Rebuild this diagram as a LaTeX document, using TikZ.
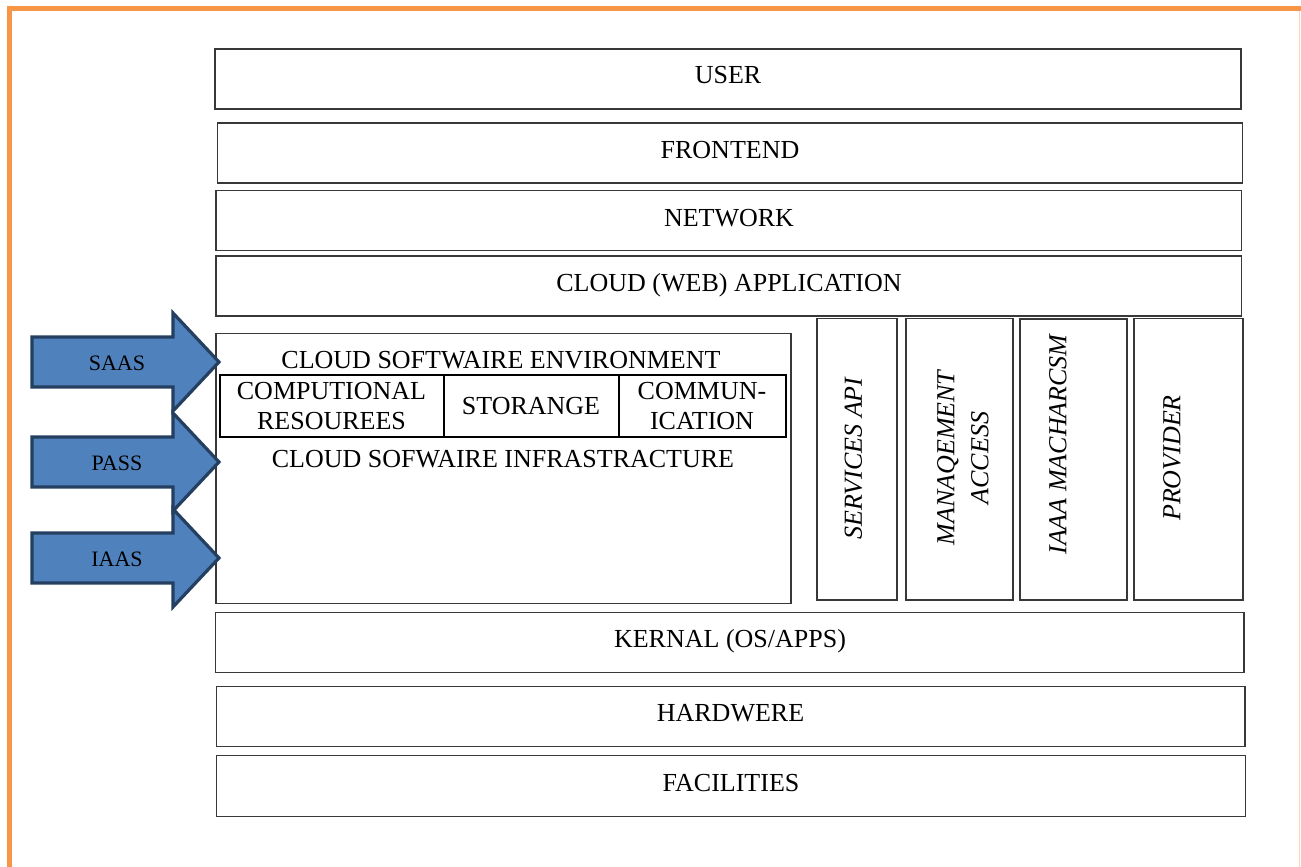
\documentclass[tikz,border=0pt]{standalone}
\usepackage{fontspec}
\setmainfont{Liberation Serif}
\definecolor{frameorange}{HTML}{F79646}
\definecolor{framelight}{HTML}{FBD5B5}
\definecolor{arrowfill}{HTML}{4F81BD}
\definecolor{arrowline}{HTML}{243F60}
\begin{document}
\begin{tikzpicture}[x=1pt,y=-1pt,
  box/.style={draw=black!78, line width=1.4pt},
  tablebox/.style={draw=black, line width=2pt},
  lbl/.style={font=\fontsize{26}{30}\selectfont, inner sep=0pt},
  vlbl/.style={font=\fontsize{26}{34}\selectfont\itshape, inner sep=0pt, rotate=90, align=center},
  arrlbl/.style={font=\fontsize{22}{26}\selectfont, inner sep=0pt},
  bigarrow/.style={fill=arrowfill, draw=arrowline, line width=3.2pt, line join=miter}
]
\useasboundingbox (0,0) rectangle (1301,867);

% orange frame
\draw[frameorange, line width=5pt, line join=miter] (9.5,867) -- (9.5,8.5) -- (1301,8.5);
\draw[framelight, line width=1.5pt] (1299.5,11) -- (1299.5,867);

% horizontal layers
\draw[box] (215,49) rectangle (1241,109);
\node[lbl, anchor=base] (user) at (728,84) {USER};
\draw[box] (217.5,123) rectangle (1242.5,183);
\node[lbl, anchor=base] (frontend) at (730,158) {FRONTEND};
\draw[box] (216,190.5) rectangle (1241.5,250.5);
\node[lbl, anchor=base] (network) at (729,226) {NETWORK};
\draw[box] (216,256) rectangle (1241.5,316);
\node[lbl, anchor=base] (cloudapp) at (729,291.5) {CLOUD (WEB) APPLICATION};

% big box
\draw[box] (216,333.5) rectangle (791,603.5);
\node[lbl, anchor=base] (env) at (501,368) {CLOUD SOFTWAIRE ENVIRONMENT};
\draw[tablebox] (220,375) rectangle (786,437);
\draw[tablebox] (443.5,375) -- (443.5,437);
\draw[tablebox] (618.5,375) -- (618.5,437);
\node[lbl, align=center] (comp) at (331.5,406) {COMPUTIONAL\\RESOUREES};
\node[lbl] (stor) at (531,406) {STORANGE};
\node[lbl, align=center] (comm) at (702,406) {COMMUN-\\ICATION};
\node[lbl, anchor=base] (infra) at (503,467) {CLOUD SOFWAIRE INFRASTRACTURE};

% vertical boxes
\draw[box] (817,318.5) rectangle (897,600);
\node[vlbl] (services) at (853.5,458.5) {SERVICES API};
\draw[box] (906,318.5) rectangle (1013,600);
\node[vlbl] (manag) at (963,458) {MANAQEMENT\\ACCESS};
\draw[box] (1020,319) rectangle (1127,600);
\node[vlbl] (iaaa) at (1058,444.5) {IAAA MACHARCSM};
\draw[box] (1134,318.5) rectangle (1243,600);
\node[vlbl] (provider) at (1172,458) {PROVIDER};

% lower layers
\draw[box] (215.5,612.5) rectangle (1244,672.5);
\node[lbl, anchor=base] (kernal) at (730,647.5) {KERNAL (OS/APPS)};
\draw[box] (216.5,686.5) rectangle (1245,746.5);
\node[lbl, anchor=base] (hardwere) at (730.5,721.5) {HARDWERE};
\draw[box] (216.5,755.5) rectangle (1245.5,816.5);
\node[lbl, anchor=base] (facilities) at (731,791) {FACILITIES};

% service model arrows
\foreach \c/\t/\n in {362/SAAS/saas, 462/PASS/pass, 558/IAAS/iaas}{
  \draw[bigarrow] (32,\c-25) -- (173,\c-25) -- (173,\c-49) -- (219,\c)
     -- (173,\c+49) -- (173,\c+25) -- (32,\c+25) -- cycle;
  \node[arrlbl] (\n) at (117,\c+1) {\t};
}
\end{tikzpicture}
\end{document}
